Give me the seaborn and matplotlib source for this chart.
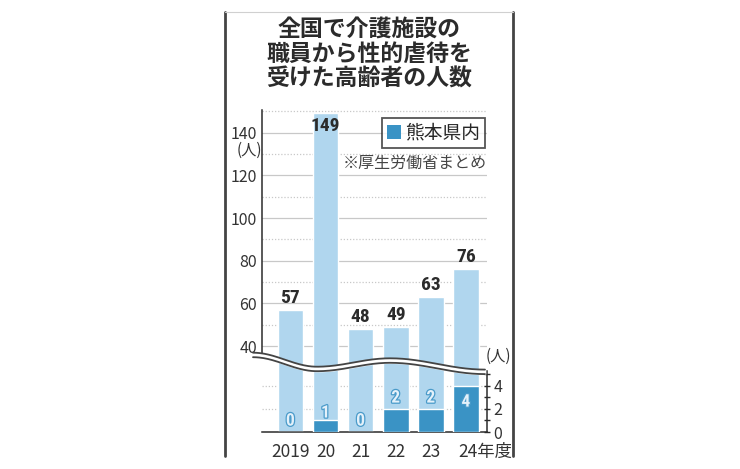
import numpy as np
import matplotlib
matplotlib.use("Agg")
import matplotlib.pyplot as plt
import matplotlib.patheffects as pe
from matplotlib import font_manager
from matplotlib.patches import Patch
from matplotlib.transforms import ScaledTranslation
import seaborn as sns

# ----------------------------------------------------------------------
# data
# ----------------------------------------------------------------------
years = ["2019", "20", "21", "22", "23", "24年度"]
national = [57, 149, 48, 49, 63, 76]      # 全国
kumamoto = [0, 1, 0, 2, 2, 4]             # 熊本県内
legend_label = "熊本県内"
title = "全国で介護施設の\n職員から性的虐待を\n受けた高齢者の人数"
note = "※厚生労働省まとめ"
unit = "(人)"

light = "#b0d6ee"
dark = "#3a93c5"
ink = "#2b2b2b"

sns.set_style("white")
plt.rcParams["font.family"] = ["Noto Sans CJK JP", "DejaVu Sans"]

names = {f.name for f in font_manager.fontManager.ttflist}
narrow = "DejaVu Sans"
for cand in ["Liberation Sans Narrow", "DejaVu Sans Condensed", "Roboto Condensed", "Open Sans Condensed"]:
    if cand in names:
        narrow = cand
        break

W, H = 740, 469
fig = plt.figure(figsize=(W / 100, H / 100), dpi=100)

def box(x0, y0, x1, y1):
    # pixel box (top-left origin) -> figure fraction rect
    return [x0 / W, 1 - y1 / H, (x1 - x0) / W, (y1 - y0) / H]

x_left, x_right = 262, 487
ax_top = fig.add_axes(box(x_left, 110, x_right, 372))
ax_bot = fig.add_axes(box(x_left, 350, x_right, 432))
ax_bot.patch.set_alpha(0)

bw = 0.73
sns.barplot(x=years, y=national, ax=ax_top, color=light, width=bw,
            saturation=1, errorbar=None, zorder=2)
sns.barplot(x=years, y=national, ax=ax_bot, color=light, width=bw,
            saturation=1, errorbar=None, zorder=2)
sns.barplot(x=years, y=kumamoto, ax=ax_bot, color=dark, width=bw,
            saturation=1, errorbar=None, zorder=3)

xlim = (-0.81, 5.6)
# upper part (national)
ax_top.set_xlim(*xlim)
ax_top.set_ylim(27.85, 150.6)
ax_top.set_xticks([])
ax_top.set_xlabel("")
ax_top.set_ylabel("")
for s in ["top", "right", "bottom"]:
    ax_top.spines[s].set_visible(False)
ax_top.spines["left"].set_color(ink)
ax_top.spines["left"].set_linewidth(1.1)
ax_top.spines["left"].set_bounds(35.3, 150.6)
ax_top.set_yticks(range(40, 141, 20))
ax_top.set_yticks(range(50, 151, 20), minor=True)
ax_top.tick_params(axis="y", which="both", direction="inout", length=5,
                   width=1, color=ink, labelsize=11.5, labelcolor="#333", pad=1)
ax_top.tick_params(axis="y", which="minor", length=4)
for v in range(40, 151, 10):
    ax_top.axhline(v, color="#c8c8c8", lw=0.9,
                   ls="-" if v % 20 == 0 else (0, (1, 1.5)), zorder=0)
ax_top.set_axisbelow(True)

for i, v in enumerate(national):
    if v > 140:
        ax_top.text(i, v - 1.6, str(v), ha="center", va="top", fontsize=14,
                    fontweight="bold", color=ink, family=narrow, zorder=5)
    else:
        ax_top.text(i, v + 1.3, str(v), ha="center", va="bottom", fontsize=14,
                    fontweight="bold", color=ink, family=narrow, zorder=5)

# lower part (Kumamoto)
ax_bot.set_xlim(*xlim)
ax_bot.set_ylim(0, 7.13)
ax_bot.set_ylabel("")
ax_bot.set_xlabel("")
for s in ["top", "left"]:
    ax_bot.spines[s].set_visible(False)
for s in ["right", "bottom"]:
    ax_bot.spines[s].set_color(ink)
    ax_bot.spines[s].set_linewidth(1.1)
ax_bot.spines["right"].set_bounds(0, 5.3)
ax_bot.yaxis.tick_right()
ax_bot.set_yticks([0, 2, 4])
ax_bot.set_yticks([1, 3, 5], minor=True)
ax_bot.tick_params(axis="y", which="both", direction="inout", length=5,
                   width=1, color=ink, labelsize=11.5, labelcolor="#333", pad=2)
ax_bot.tick_params(axis="y", which="minor", length=4)
for v in [2, 4]:
    ax_bot.axhline(v, color="#c8c8c8", lw=0.9, ls=(0, (1, 1.5)), zorder=0)
ax_bot.tick_params(axis="x", length=0, labelsize=12.5, labelcolor="#333", pad=8)
ax_bot.set_xticks(range(len(years)))
ax_bot.set_xticklabels(years)
last = ax_bot.get_xticklabels()[-1]
last.set_horizontalalignment("left")
last.set_transform(last.get_transform() + ScaledTranslation(-8 / 100, 0, fig.dpi_scale_trans))

for i, v in enumerate(kumamoto):
    y = v + 0.95 if v < 3 else v - 1.4
    if v == 1:
        y = 1.65
    ax_bot.text(i, y, str(v), ha="center", va="center", fontsize=12.5,
                fontweight="bold", color="#e4f1fa", family=narrow, zorder=6,
                path_effects=[pe.withStroke(linewidth=1.8, foreground="#4a9bca")])

# legend
handle = Patch(facecolor=dark, edgecolor="none")
leg = ax_top.legend([handle], [legend_label], loc="upper left",
                    bbox_to_anchor=((382 - x_left) / (x_right - x_left), 1 - (118 - 110) / (372 - 110)),
                    frameon=True, fancybox=False, edgecolor=ink, fontsize=13.5,
                    handlelength=0.75, handleheight=0.75, handletextpad=0.25,
                    borderpad=0.25, borderaxespad=0)
leg.get_frame().set_linewidth(1.3)
leg.set_zorder(8)

# overlay in pixel space: title, notes, break wave, frame
ov = fig.add_axes([0, 0, 1, 1], zorder=10)
ov.set_xlim(0, W)
ov.set_ylim(H, 0)
ov.axis("off")
ov.patch.set_alpha(0)

ov.text(369, 54, title, ha="center", va="center", fontsize=16.5,
        fontweight="bold", color=ink, linespacing=1.1)
ov.text(487, 163, note, ha="right", va="center", fontsize=11.5, color="#444")
ov.text(249, 150, unit, ha="center", va="center", fontsize=11, color="#333")
ov.text(498, 356, unit, ha="center", va="center", fontsize=11, color="#333")

# wavy break
xk = [253, 317, 390, 485]
yk = [352.7, 366.7, 358.3, 369.6]
xs, ys = [], []
for (x0, x1), (y0, y1) in zip(zip(xk[:-1], xk[1:]), zip(yk[:-1], yk[1:])):
    t = np.linspace(0, 1, 60)
    xs.append(x0 + (x1 - x0) * t)
    ys.append(y0 + (y1 - y0) * (1 - np.cos(np.pi * t)) / 2)
xs = np.concatenate(xs)
ys = np.concatenate(ys)
ov.fill_between(xs, ys, ys + 4.5, color="white", zorder=1)
ov.plot(xs, ys, color="#444", lw=1.3, zorder=2)
ov.plot(xs, ys + 4.5, color="#444", lw=1.3, zorder=2)

# frame
ov.plot([225, 225], [12, 456], color="#444", lw=2)
ov.plot([513, 513], [12, 456], color="#444", lw=2)
ov.plot([225, 513], [12, 12], color="#d0d0d0", lw=0.8)

fig.savefig("out.png", dpi=100)
